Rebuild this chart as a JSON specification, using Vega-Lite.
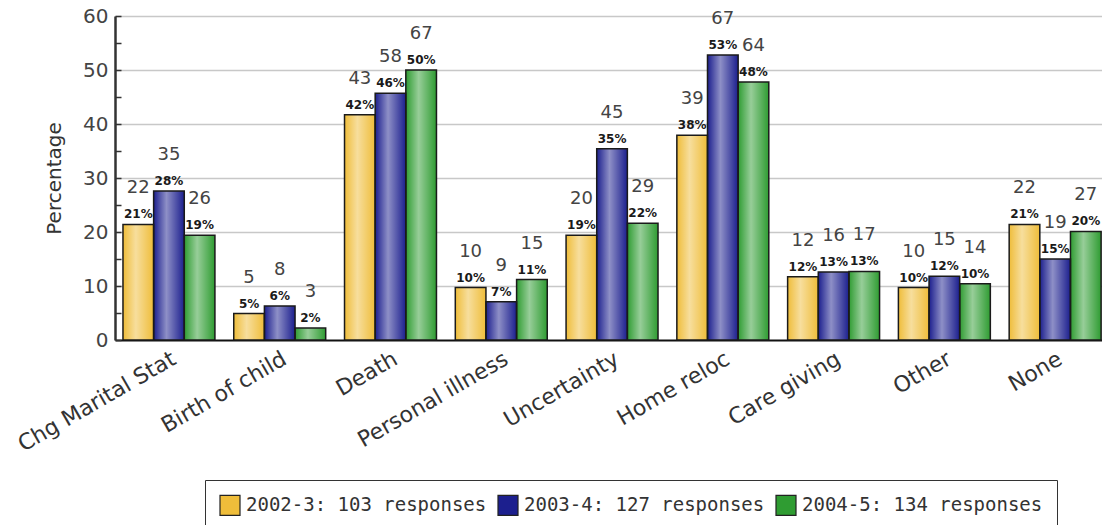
{
  "$schema": "https://vega.github.io/schema/vega-lite/v6.json",
  "autosize": "none",
  "padding": {"left": 115, "top": 16, "right": 0, "bottom": 185},
  "width": 987,
  "height": 324,
  "background": "white",
  "config": {"view": {"stroke": null}, "font": "DejaVu Sans"},
  "data": {
    "values": [
      {"cat": "Chg Marital Stat", "series": "2002-3: 103 responses", "count": 22, "pct": 21.4},
      {"cat": "Chg Marital Stat", "series": "2003-4: 127 responses", "count": 35, "pct": 27.6},
      {"cat": "Chg Marital Stat", "series": "2004-5: 134 responses", "count": 26, "pct": 19.4},
      {"cat": "Birth of child", "series": "2002-3: 103 responses", "count": 5, "pct": 4.9},
      {"cat": "Birth of child", "series": "2003-4: 127 responses", "count": 8, "pct": 6.3},
      {"cat": "Birth of child", "series": "2004-5: 134 responses", "count": 3, "pct": 2.2},
      {"cat": "Death", "series": "2002-3: 103 responses", "count": 43, "pct": 41.7},
      {"cat": "Death", "series": "2003-4: 127 responses", "count": 58, "pct": 45.7},
      {"cat": "Death", "series": "2004-5: 134 responses", "count": 67, "pct": 50.0},
      {"cat": "Personal illness", "series": "2002-3: 103 responses", "count": 10, "pct": 9.7},
      {"cat": "Personal illness", "series": "2003-4: 127 responses", "count": 9, "pct": 7.1},
      {"cat": "Personal illness", "series": "2004-5: 134 responses", "count": 15, "pct": 11.2},
      {"cat": "Uncertainty", "series": "2002-3: 103 responses", "count": 20, "pct": 19.4},
      {"cat": "Uncertainty", "series": "2003-4: 127 responses", "count": 45, "pct": 35.4},
      {"cat": "Uncertainty", "series": "2004-5: 134 responses", "count": 29, "pct": 21.6},
      {"cat": "Home reloc", "series": "2002-3: 103 responses", "count": 39, "pct": 37.9},
      {"cat": "Home reloc", "series": "2003-4: 127 responses", "count": 67, "pct": 52.8},
      {"cat": "Home reloc", "series": "2004-5: 134 responses", "count": 64, "pct": 47.8},
      {"cat": "Care giving", "series": "2002-3: 103 responses", "count": 12, "pct": 11.7},
      {"cat": "Care giving", "series": "2003-4: 127 responses", "count": 16, "pct": 12.6},
      {"cat": "Care giving", "series": "2004-5: 134 responses", "count": 17, "pct": 12.7},
      {"cat": "Other", "series": "2002-3: 103 responses", "count": 10, "pct": 9.7},
      {"cat": "Other", "series": "2003-4: 127 responses", "count": 15, "pct": 11.8},
      {"cat": "Other", "series": "2004-5: 134 responses", "count": 14, "pct": 10.4},
      {"cat": "None", "series": "2002-3: 103 responses", "count": 22, "pct": 21.4},
      {"cat": "None", "series": "2003-4: 127 responses", "count": 19, "pct": 15.0},
      {"cat": "None", "series": "2004-5: 134 responses", "count": 27, "pct": 20.1}
    ]
  },
  "encoding": {
    "x": {
      "field": "cat",
      "type": "nominal",
      "sort": ["Chg Marital Stat", "Birth of child", "Death", "Personal illness", "Uncertainty", "Home reloc", "Care giving", "Other", "None"],
      "scale": {"paddingInner": 0.17, "paddingOuter": 0.04, "align": 0.9},
      "axis": {
        "title": null,
        "labelAngle": -30,
        "labelAlign": "right",
        "labelBaseline": "top",
        "labelFont": "DejaVu Sans",
        "labelFontSize": 22,
        "labelColor": "#333",
        "labelPadding": 8,
        "ticks": false,
        "domainColor": "#111",
        "domainWidth": 2
      }
    },
    "xOffset": {
      "field": "series",
      "type": "nominal",
      "scale": {"paddingInner": 0, "paddingOuter": 0}
    },
    "y": {
      "field": "pct",
      "type": "quantitative",
      "scale": {"domain": [0, 60], "nice": false},
      "axis": {
        "title": "Percentage",
        "values": [0, 5, 10, 15, 20, 25, 30, 35, 40, 45, 50, 55, 60],
        "labelExpr": "datum.value % 10 === 0 ? datum.label : ''",
        "grid": true,
        "gridColor": "#c8c8c8",
        "gridWidth": 1.5,
        "gridOpacity": {"condition": {"test": "datum.value % 10 === 0 && datum.value > 0", "value": 1}, "value": 0},
        "tickSize": -6,
        "tickColor": "#333",
        "tickWidth": 1.5,
        "labelFontSize": 20,
        "labelColor": "#444",
        "labelPadding": 13,
        "domainColor": "#333",
        "domainWidth": 2.5,
        "titleFont": "DejaVu Sans",
        "titleFontSize": 20,
        "titleFontWeight": "normal",
        "titleColor": "#333",
        "titlePadding": 18
      }
    }
  },
  "layer": [
    {
      "mark": {"type": "bar"},
      "encoding": {
        "color": {
          "field": "series",
          "type": "nominal",
          "scale": {
            "domain": ["2002-3: 103 responses", "2003-4: 127 responses", "2004-5: 134 responses"],
            "range": ["#efbd3a", "#1c1f8e", "#2f9c32"]
          },
          "legend": {
            "orient": "none",
            "legendX": 90,
            "legendY": 464,
            "direction": "horizontal",
            "title": null,
            "symbolType": "square",
            "symbolSize": 400,
            "symbolOpacity": 1,
            "symbolStrokeColor": "#222",
            "symbolStrokeWidth": 1.2,
            "labelFont": "DejaVu Sans Mono",
            "labelFontSize": 19,
            "labelColor": "#333",
            "labelOffset": 5,
            "labelLimit": 400,
            "columnPadding": 8,
            "padding": 14,
            "strokeColor": "#333"
          }
        }
      }
    },
    {
      "mark": {
        "type": "bar",
        "stroke": "#1a1a1a",
        "strokeWidth": 1.5,
        "fill": {
          "gradient": "linear",
          "x1": 0, "y1": 0, "x2": 1, "y2": 0,
          "stops": [
            {"offset": 0, "color": "rgba(255,255,255,0)"},
            {"offset": 0.42, "color": "rgba(255,255,255,0.5)"},
            {"offset": 1, "color": "rgba(255,255,255,0)"}
          ]
        }
      }
    },
    {
      "mark": {
        "type": "text",
        "baseline": "alphabetic",
        "dy": -6,
        "fontSize": 12,
        "fontWeight": "bold",
        "color": "#1a1a1a",
        "text": {"expr": "format(datum.pct, '.0f') + '%'"}
      }
    },
    {
      "mark": {
        "type": "text",
        "baseline": "alphabetic",
        "dy": -31,
        "fontSize": 18,
        "color": "#444"
      },
      "encoding": {"text": {"field": "count", "type": "quantitative"}}
    }
  ]
}
